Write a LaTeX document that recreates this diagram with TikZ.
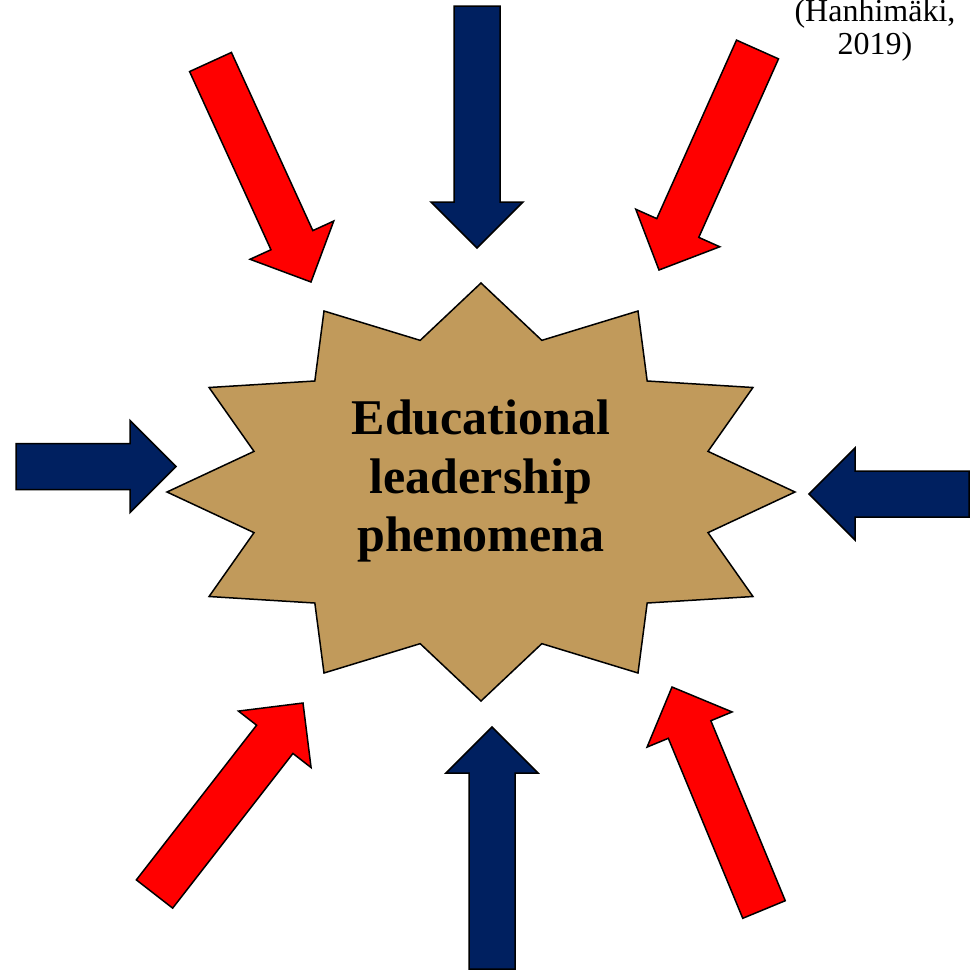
\documentclass[tikz,border=0pt]{standalone}
\usepackage{fontspec}
\setmainfont{Liberation Serif}
\usetikzlibrary{calc}

\definecolor{dunkelblau}{HTML}{002060}
\definecolor{hellrot}{HTML}{FF0000}
\definecolor{sand}{HTML}{C19A5B}

\tikzset{
    pfeil/.style={draw=black, line width=1.5pt, line join=miter},
    blau/.style={pfeil, fill=dunkelblau},
    rot/.style={pfeil, fill=hellrot},
    stern/.style={draw=black, line width=1.5pt, line join=miter, fill=sand}
}

% block arrow from #2 (tail) to #3 (tip), shaft 46, head 92 wide and 46 long
\newcommand{\blockpfeil}[3]{%
    \path ($(#3)!46pt!(#2)$) coordinate (#3-b);
    \draw[#1] ($(#2)!23pt!90:(#3)$) -- ($(#3-b)!23pt!90:(#3)$)
        -- ($(#3-b)!46pt!90:(#3)$) -- (#3) -- ($(#3-b)!46pt!-90:(#3)$)
        -- ($(#3-b)!23pt!-90:(#3)$) -- ($(#2)!23pt!-90:(#3)$) -- cycle;
}

\begin{document}
\begin{tikzpicture}[x=1pt, y=-1pt]
    \useasboundingbox (0,0) rectangle (974,972);

    % the star, 12 points
    \draw[stern] (481,283) \foreach \a in {105,135,...,435} {
        -- ({481+235*cos(\a)},{492-157*sin(\a)})
        -- ({481+314*cos(\a+15)},{492-209*sin(\a+15)}) } -- cycle;
    \node[font=\fontsize{50}{58.5}\selectfont\bfseries, align=center] (phen) at (481,481)
        {Educational\\leadership\\phenomena};

    \node[font=\fontsize{32}{33}\selectfont, align=center, anchor=base] (quelle) at (875,54)
        {(Hanhimäki,\\2019)};

    % ends of the arrows
    \path coordinate (nS) at (477,6)     coordinate (nZ) at (477,248)
          coordinate (sS) at (492,969)   coordinate (sZ) at (492,727)
          coordinate (wS) at (16,466.5)  coordinate (wZ) at (176,466.5)
          coordinate (oS) at (969,494)   coordinate (oZ) at (809,494)
          coordinate (nwS) at (210.5,62) coordinate (nwZ) at (311,282)
          coordinate (noS) at (757.5,49.5) coordinate (noZ) at (659,270)
          coordinate (swS) at (154.5,894) coordinate (swZ) at (303,703)
          coordinate (soS) at (764,909.5) coordinate (soZ) at (672,687);

    \blockpfeil{blau}{nS}{nZ}
    \blockpfeil{blau}{sS}{sZ}
    \blockpfeil{blau}{wS}{wZ}
    \blockpfeil{blau}{oS}{oZ}
    \blockpfeil{rot}{nwS}{nwZ}
    \blockpfeil{rot}{noS}{noZ}
    \blockpfeil{rot}{swS}{swZ}
    \blockpfeil{rot}{soS}{soZ}
\end{tikzpicture}
\end{document}
